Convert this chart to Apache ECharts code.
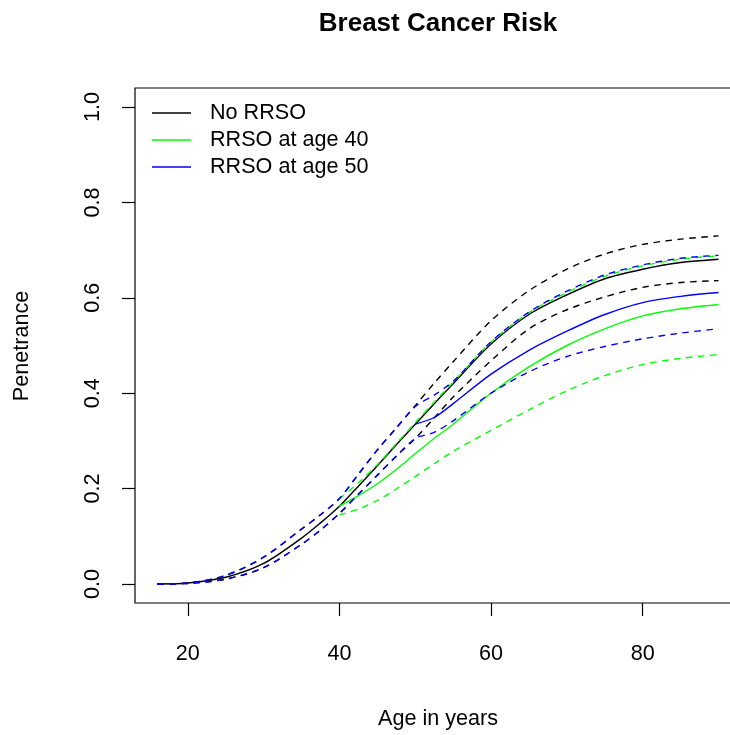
<!DOCTYPE html>
<html><head><meta charset="utf-8">
<script src="https://cdn.jsdelivr.net/npm/echarts@6/dist/echarts.min.js"></script>
<style>html,body{margin:0;padding:0;background:#fff}#c{width:730px;height:735px}</style>
</head><body><div id="c"></div>
<script>
const ages = [16,20,25,30,35,37.5,40,42.5,45,47.5,50,52.5,55,60,65,70,75,80,85,90];
const noRRSO      = [0,0.002,0.014,0.043,0.096,0.128,0.163,0.205,0.248,0.292,0.335,0.378,0.420,0.503,0.565,0.606,0.640,0.660,0.674,0.681];
const noRRSOUpper = [0,0.002,0.018,0.056,0.115,0.145,0.179,0.230,0.281,0.327,0.374,0.421,0.466,0.552,0.615,0.660,0.692,0.712,0.723,0.730];
const noRRSOLower = [0,0.001,0.010,0.034,0.083,0.113,0.148,0.188,0.228,0.268,0.305,0.348,0.392,0.468,0.535,0.575,0.602,0.622,0.632,0.636];
const rrso40      = [null,null,null,null,null,null,0.163,0.185,0.210,0.240,0.273,0.305,0.335,0.400,0.455,0.500,0.535,0.562,0.577,0.586];
const rrso40Upper = [null,null,null,null,null,null,0.178,0.212,0.250,0.294,0.338,0.381,0.423,0.507,0.569,0.611,0.645,0.667,0.681,0.688];
const rrso40Lower = [null,null,null,null,null,null,0.145,0.157,0.175,0.199,0.225,0.252,0.278,0.322,0.365,0.405,0.437,0.460,0.473,0.481];
const rrso50      = [null,null,null,null,null,null,null,null,null,null,0.335,0.349,0.378,0.440,0.490,0.530,0.565,0.590,0.603,0.611];
const rrso50Upper = [0,0.002,0.018,0.056,0.115,0.145,0.179,0.230,0.281,0.327,0.372,0.396,0.425,0.508,0.570,0.614,0.648,0.669,0.683,0.689];
const rrso50Lower = [0,0.001,0.010,0.034,0.083,0.113,0.148,0.188,0.228,0.268,0.305,0.318,0.342,0.400,0.445,0.477,0.498,0.514,0.526,0.535];
const xTicks = [20,40,60,80];
const yTicks = [0,0.2,0.4,0.6,0.8,1.0];
const legendNames = ['No RRSO','RRSO at age 40','RRSO at age 50'];

const FONT = 'Liberation Sans, Arial, Helvetica, sans-serif';
const BLACK = '#000000', GREEN = '#00ff00', BLUE = '#0000ff';

function mk(name, arr, color, dashed) {
  return {
    type: 'line', name: name,
    data: ages.map((a, i) => [a, arr[i]]).filter(d => d[1] !== null),
    symbol: 'none', showSymbol: false, smooth: 0.3,
    color: color,
    itemStyle: { color: color },
    lineStyle: { color: color, width: 1.4, type: dashed ? [6.5, 5.5] : 'solid' },
    emphasis: { disabled: true }, silent: true
  };
}

const chart = echarts.init(document.getElementById('c'), null, { renderer: 'canvas' });
chart.setOption({
  animation: false,
  backgroundColor: '#ffffff',
  grid: { left: 135, right: -11, top: 88, bottom: 132, outerBoundsMode: 'none', containLabel: false, show: true, borderColor: '#000', borderWidth: 1.2, backgroundColor: 'transparent' },
  xAxis: {
    type: 'value', min: 13.04, max: 92.96,
    axisLine: { show: false, onZero: false },
    splitLine: { show: false },
    axisTick: { show: true, inside: false, length: 13, customValues: xTicks, lineStyle: { color: '#000', width: 1.2 } },
    axisLabel: { customValues: xTicks, margin: 40, color: '#000', fontSize: 21.6, fontFamily: FONT }
  },
  yAxis: {
    type: 'value', min: -0.04, max: 1.04,
    axisLine: { show: false, onZero: false },
    splitLine: { show: false },
    axisTick: { show: true, inside: false, length: 13, customValues: yTicks, lineStyle: { color: '#000', width: 1.2 } },
    axisLabel: { customValues: yTicks, rotate: 90, margin: 31, color: '#000', fontSize: 21.6, fontFamily: FONT, formatter: v => v.toFixed(1) }
  },
  legend: {
    data: legendNames, orient: 'vertical', left: 152, top: 102, padding: 0,
    icon: 'rect', itemWidth: 39, itemHeight: 1.5, itemGap: 5,
    selectedMode: false,
    textStyle: { color: '#000', fontSize: 21.6, fontFamily: FONT, lineHeight: 22, padding: [0, 0, 0, 14] }
  },
  graphic: [
    { type: 'text', x: 438, y: 24, style: { text: 'Breast Cancer Risk', font: 'bold 26px ' + FONT, fill: '#000', align: 'center', verticalAlign: 'middle', textAlign: 'center', textVerticalAlign: 'middle' } },
    { type: 'text', x: 438, y: 719, style: { text: 'Age in years', font: '21.6px ' + FONT, fill: '#000', align: 'center', verticalAlign: 'middle', textAlign: 'center', textVerticalAlign: 'middle' } },
    { type: 'text', x: 22, y: 346, rotation: Math.PI / 2, style: { text: 'Penetrance', font: '21.6px ' + FONT, fill: '#000', align: 'center', verticalAlign: 'middle', textAlign: 'center', textVerticalAlign: 'middle' } }
  ],
  series: [
    mk('No RRSO', noRRSO, BLACK, false),
    mk('No RRSO upper', noRRSOUpper, BLACK, true),
    mk('No RRSO lower', noRRSOLower, BLACK, true),
    mk('RRSO at age 40', rrso40, GREEN, false),
    mk('RRSO at age 40 upper', rrso40Upper, GREEN, true),
    mk('RRSO at age 40 lower', rrso40Lower, GREEN, true),
    mk('RRSO at age 50', rrso50, BLUE, false),
    mk('RRSO at age 50 upper', rrso50Upper, BLUE, true),
    mk('RRSO at age 50 lower', rrso50Lower, BLUE, true)
  ]
});
</script>
</body></html>
